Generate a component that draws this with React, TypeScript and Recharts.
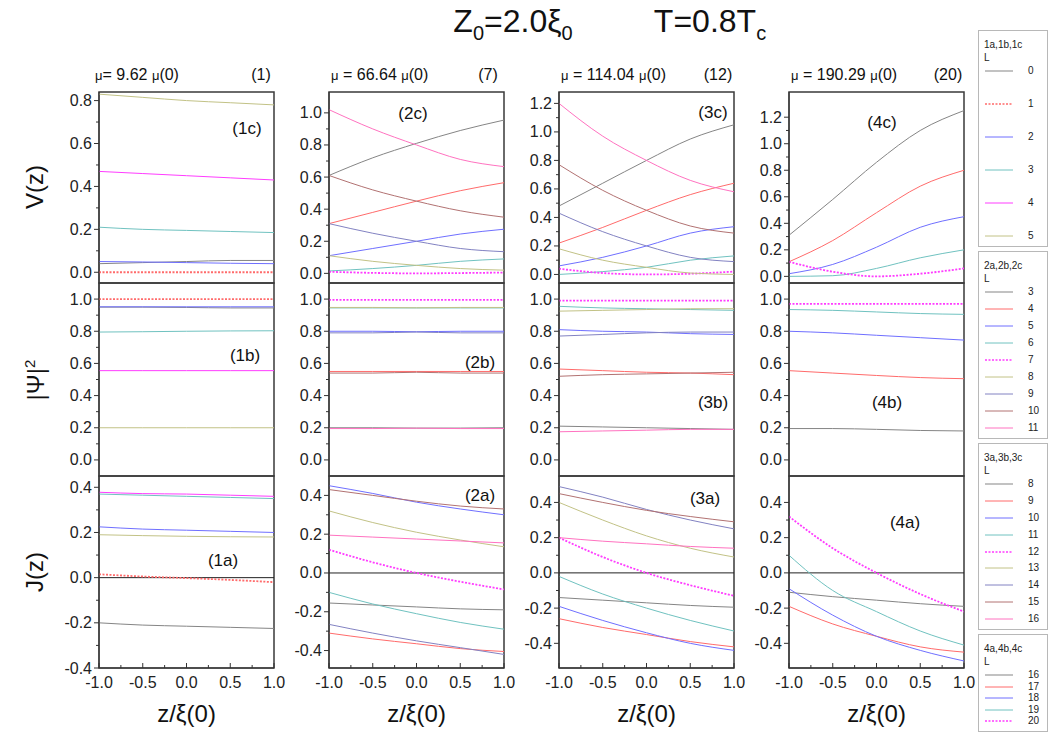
import React from 'react';
import { LineChart, Line, XAxis, YAxis, ReferenceArea, ReferenceLine } from 'recharts';

// z/xi(0) sample points shared by every curve
const zPoints = [-1, -0.5, 0, 0.5, 1];
const xTicks = [-1, -0.75, -0.5, -0.25, 0, 0.25, 0.5, 0.75, 1];

// L values per column (legend order), and the L marked dotted
const lGroups = [
  [0, 1, 2, 3, 4, 5],
  [3, 4, 5, 6, 7, 8, 9, 10, 11],
  [8, 9, 10, 11, 12, 13, 14, 15, 16],
  [16, 17, 18, 19, 20],
];
const currentL = [1, 7, 12, 20];
const muLabels = ['9.62', '66.64', '114.04', '190.29'];
const lineColors = ['#858585', '#ff6b6b', '#6f6fff', '#70c2c0', '#ff3cff', '#c2c286', '#8282c2', '#b27272', '#ff72c0'];

// V(z), one row per L of the column
const vCol1 = [
  [0.04, 0.045, 0.05, 0.055, 0.055],
  [0, 0, 0, 0, 0],
  [0.05, 0.048, 0.045, 0.042, 0.04],
  [0.21, 0.2, 0.195, 0.19, 0.185],
  [0.47, 0.46, 0.45, 0.44, 0.43],
  [0.83, 0.815, 0.8, 0.79, 0.78],
];
const vCol2 = [
  [0.61, 0.72, 0.81, 0.89, 0.955],
  [0.31, 0.38, 0.45, 0.515, 0.565],
  [0.11, 0.155, 0.2, 0.245, 0.275],
  [0.015, 0.03, 0.05, 0.075, 0.09],
  [0.01, 0.003, 0, 0.002, 0.005],
  [0.11, 0.075, 0.05, 0.03, 0.02],
  [0.31, 0.25, 0.2, 0.155, 0.135],
  [0.61, 0.52, 0.45, 0.39, 0.35],
  [1.02, 0.9, 0.8, 0.71, 0.665],
];
const vCol3 = [
  [0.48, 0.64, 0.8, 0.95, 1.05],
  [0.22, 0.33, 0.45, 0.56, 0.64],
  [0.06, 0.12, 0.2, 0.29, 0.335],
  [0.0, 0.02, 0.05, 0.1, 0.13],
  [0.04, 0.01, 0.0, 0.005, 0.02],
  [0.18, 0.1, 0.05, 0.01, 0.0],
  [0.43, 0.3, 0.2, 0.12, 0.09],
  [0.77, 0.59, 0.45, 0.34, 0.29],
  [1.2, 0.97, 0.8, 0.66, 0.58],
];
const vCol4 = [
  [0.31, 0.58, 0.86, 1.1, 1.25],
  [0.11, 0.27, 0.48, 0.68, 0.8],
  [0.02, 0.09, 0.22, 0.37, 0.45],
  [0.0, 0.005, 0.06, 0.14, 0.2],
  [0.11, 0.035, 0.0, 0.02, 0.06],
];

// |Psi|^2
const psiCol1 = [
  [0.95, 0.95, 0.948, 0.945, 0.945],
  [1, 1, 1, 1, 1],
  [0.952, 0.952, 0.952, 0.952, 0.952],
  [0.795, 0.797, 0.8, 0.802, 0.803],
  [0.555, 0.555, 0.555, 0.555, 0.555],
  [0.2, 0.2, 0.2, 0.2, 0.2],
];
const psiCol2 = [
  [0.2, 0.2, 0.198, 0.198, 0.2],
  [0.55, 0.55, 0.55, 0.55, 0.55],
  [0.8, 0.8, 0.797, 0.8, 0.8],
  [0.945, 0.945, 0.945, 0.945, 0.945],
  [0.995, 0.995, 0.995, 0.995, 0.995],
  [0.948, 0.948, 0.946, 0.948, 0.948],
  [0.79, 0.79, 0.795, 0.79, 0.79],
  [0.54, 0.54, 0.545, 0.54, 0.54],
  [0.195, 0.195, 0.197, 0.195, 0.195],
];
const psiCol3 = [
  [0.21, 0.205, 0.2, 0.195, 0.19],
  [0.565, 0.555, 0.545, 0.54, 0.53],
  [0.81, 0.8, 0.795, 0.785, 0.78],
  [0.955, 0.945, 0.94, 0.935, 0.93],
  [0.99, 0.99, 0.99, 0.99, 0.99],
  [0.925, 0.93, 0.935, 0.94, 0.94],
  [0.77, 0.78, 0.79, 0.795, 0.795],
  [0.52, 0.53, 0.535, 0.54, 0.545],
  [0.175, 0.18, 0.185, 0.19, 0.19],
];
const psiCol4 = [
  [0.195, 0.195, 0.19, 0.183, 0.18],
  [0.555, 0.54, 0.525, 0.512, 0.505],
  [0.8, 0.79, 0.775, 0.76, 0.745],
  [0.935, 0.93, 0.92, 0.91, 0.905],
  [0.97, 0.97, 0.97, 0.97, 0.97],
];

// J(z)
const jCol1 = [
  [-0.2, -0.21, -0.215, -0.22, -0.225],
  [0.015, 0.005, -0.002, -0.01, -0.02],
  [0.225, 0.215, 0.21, 0.205, 0.2],
  [0.37, 0.365, 0.36, 0.355, 0.35],
  [0.378, 0.372, 0.37, 0.365, 0.36],
  [0.19, 0.186, 0.183, 0.181, 0.18],
];
const jCol2 = [
  [-0.155, -0.165, -0.175, -0.185, -0.19],
  [-0.31, -0.34, -0.365, -0.39, -0.405],
  [0.45, 0.41, 0.365, 0.33, 0.3],
  [-0.1, -0.16, -0.21, -0.255, -0.29],
  [0.12, 0.055, 0.0, -0.045, -0.085],
  [0.32, 0.26, 0.21, 0.17, 0.135],
  [-0.265, -0.31, -0.35, -0.385, -0.42],
  [0.43, 0.4, 0.37, 0.345, 0.33],
  [0.195, 0.185, 0.175, 0.165, 0.155],
];
const jCol3 = [
  [-0.14, -0.155, -0.17, -0.185, -0.195],
  [-0.26, -0.31, -0.35, -0.39, -0.42],
  [-0.19, -0.27, -0.34, -0.4, -0.44],
  [-0.02, -0.12, -0.2, -0.27, -0.33],
  [0.2, 0.09, 0.0, -0.07, -0.13],
  [0.4, 0.3, 0.21, 0.14, 0.09],
  [0.49, 0.43, 0.36, 0.3, 0.25],
  [0.45, 0.4, 0.355, 0.32, 0.29],
  [0.2, 0.18, 0.165, 0.15, 0.14],
];
const jCol4 = [
  [-0.11, -0.135, -0.155, -0.175, -0.19],
  [-0.19, -0.29, -0.36, -0.42, -0.45],
  [-0.09, -0.24, -0.36, -0.44, -0.5],
  [0.1, -0.1, -0.22, -0.33, -0.41],
  [0.32, 0.14, 0.0, -0.12, -0.22],
];

const rowData = [
  [vCol1, vCol2, vCol3, vCol4],
  [psiCol1, psiCol2, psiCol3, psiCol4],
  [jCol1, jCol2, jCol3, jCol4],
];
const rowDomains = [
  [[-0.05, 0.84], [-0.06, 1.13], [-0.06, 1.28], [-0.05, 1.39]],
  [[-0.1, 1.1], [-0.1, 1.1], [-0.1, 1.1], [-0.1, 1.1]],
  [[-0.4, 0.45], [-0.49, 0.5], [-0.54, 0.55], [-0.54, 0.55]],
];
// labelled tick range [min, max], minor ticks every 0.1
const rowTickRange = [
  [[0, 0.8], [0, 1.0], [0, 1.2], [0, 1.2]],
  [[0, 1.0], [0, 1.0], [0, 1.0], [0, 1.0]],
  [[-0.4, 0.4], [-0.4, 0.4], [-0.4, 0.4], [-0.4, 0.4]],
];
const panelTags = [
  ['(1c)', '(2c)', '(3c)', '(4c)'],
  ['(1b)', '(2b)', '(3b)', '(4b)'],
  ['(1a)', '(2a)', '(3a)', '(4a)'],
];
const tagPos = [
  [[247, 128], [413, 113], [713, 112], [882, 122]],
  [[245, 355], [480, 362], [713, 402], [887, 402]],
  [[223, 560], [480, 495], [705, 498], [905, 522]],
];

// layout
const PLOT_X = [99, 329, 559, 789];
const PLOT_W = 175;
const ROW_Y = [92, 283, 476];
const ROW_H = [191, 193, 192];
const AXIS_W = 45;
const RIGHT_PAD = 16;
const FONT = '"Liberation Sans", Arial, sans-serif';

const makeTicks = ([lo, hi]: number[]) => {
  const out: number[] = [];
  for (let i = Math.round(lo * 10); i <= Math.round(hi * 10); i++) out.push(i / 10);
  return out;
};

const YTick = (props: any) => {
  const { x, y, payload } = props;
  const major = Math.round(payload.value * 10) % 2 === 0;
  return (
    <g>
      <line x1={x - (major ? 5 : 3)} x2={x} y1={y} y2={y} stroke="#333" />
      {major && (
        <text x={x - 7} y={y} dy={5.5} textAnchor="end" fontSize={16} fill="#222" fontFamily={FONT}>
          {payload.value.toFixed(1)}
        </text>
      )}
    </g>
  );
};

const makeXTick = (showLabel: boolean) => (props: any) => {
  const { x, y, payload } = props;
  const major = Math.abs(payload.value * 2 - Math.round(payload.value * 2)) < 1e-6;
  return (
    <g>
      <line x1={x} x2={x} y1={y} y2={y - (major ? 5 : 3)} stroke="#333" />
      {showLabel && major && (
        <text x={x} y={y} dy={20} textAnchor="middle" fontSize={16} fill="#222" fontFamily={FONT}>
          {payload.value.toFixed(1)}
        </text>
      )}
    </g>
  );
};

const Panel = ({ row, col }: { row: number; col: number }) => {
  const values = rowData[row][col];
  const domain = rowDomains[row][col];
  const isBottom = row === 2;
  const data = zPoints.map((z, i) => {
    const d: any = { z };
    values.forEach((s, k) => (d['s' + k] = s[i]));
    return d;
  });
  const height = ROW_H[row] + 4 + (isBottom ? 30 : 0);
  return (
    <div style={{ position: 'absolute', left: PLOT_X[col] - AXIS_W, top: ROW_Y[row] - 2 }}>
      <LineChart
        width={AXIS_W + PLOT_W + RIGHT_PAD}
        height={height}
        data={data}
        margin={{ top: 2, right: RIGHT_PAD, bottom: 2, left: 0 }}
      >
        <XAxis
          dataKey="z"
          type="number"
          domain={[-1, 1]}
          ticks={xTicks}
          interval={0}
          tick={makeXTick(isBottom)}
          tickLine={false}
          tickSize={0}
          tickMargin={0}
          height={isBottom ? 30 : 0}
          axisLine={{ stroke: '#333' }}
          allowDataOverflow
        />
        <YAxis
          type="number"
          domain={domain}
          ticks={makeTicks(rowTickRange[row][col])}
          interval={0}
          tick={<YTick />}
          tickLine={false}
          tickSize={0}
          tickMargin={0}
          width={AXIS_W}
          axisLine={{ stroke: '#333' }}
          allowDataOverflow
        />
        {isBottom && <ReferenceLine y={0} stroke="#222" strokeWidth={1} />}
        {values.map((s, k) => {
          const dotted = lGroups[col][k] === currentL[col];
          return (
            <Line
              key={k}
              dataKey={'s' + k}
              type="monotone"
              stroke={lineColors[k]}
              strokeWidth={dotted ? 1.8 : 1}
              strokeDasharray={dotted ? '2 1.5' : undefined}
              dot={false}
              isAnimationActive={false}
            />
          );
        })}
        <ReferenceArea x1={-1} x2={1} y1={domain[0]} y2={domain[1]} fill="none" stroke="#3a3a3a" strokeWidth={1.5} />
      </LineChart>
    </div>
  );
};

const Txt = ({ x, y, size, children, rotate }: any) => (
  <div
    style={{
      position: 'absolute',
      left: x,
      top: y,
      transform: `translate(-50%, -50%)${rotate ? ' rotate(-90deg)' : ''}`,
      fontSize: size,
      whiteSpace: 'nowrap',
      lineHeight: 1,
      color: '#111',
    }}
  >
    {children}
  </div>
);

const legendBoxes = [
  { top: 30, height: 215, title: '1a,1b,1c' },
  { top: 251, height: 186, title: '2a,2b,2c' },
  { top: 443, height: 185, title: '3a,3b,3c' },
  { top: 634, height: 96, title: '4a,4b,4c' },
];

const LegendBox = ({ col }: { col: number }) => {
  const box = legendBoxes[col];
  const items = lGroups[col];
  const start = 40;
  const step = (box.height - start - 10) / Math.max(items.length - 1, 1);
  return (
    <div style={{ position: 'absolute', left: 978, top: box.top, width: 68, height: box.height, border: '1px solid #b8b8b8', fontSize: 10, color: '#222' }}>
      <div style={{ position: 'absolute', left: 5, top: 8 }}>{box.title}</div>
      <div style={{ position: 'absolute', left: 5, top: 21 }}>L</div>
      {items.map((l, k) => {
        const dotted = l === currentL[col];
        return (
          <div key={l} style={{ position: 'absolute', left: 5, top: start + k * step - 6, height: 12, width: 60 }}>
            <svg width={30} height={12} style={{ position: 'absolute', left: 0, top: 0 }}>
              <line x1={1} x2={29} y1={6} y2={6} stroke={lineColors[k]} strokeWidth={dotted ? 1.6 : 1} strokeDasharray={dotted ? '2 1.5' : undefined} />
            </svg>
            <span style={{ position: 'absolute', left: 44, top: 0 }}>{l}</span>
          </div>
        );
      })}
    </div>
  );
};

export default function App() {
  return (
    <div style={{ position: 'absolute', left: 0, top: 0, width: 1053, height: 737, background: '#fff', fontFamily: FONT, overflow: 'hidden' }}>
      <Txt x={513} y={24} size={32}>
        Z<sub style={{ fontSize: 20 }}>0</sub>=2.0ξ<sub style={{ fontSize: 20 }}>0</sub>
      </Txt>
      <Txt x={710} y={24} size={32}>
        T=0.8T<sub style={{ fontSize: 20 }}>c</sub>
      </Txt>

      {muLabels.map((mu, c) => (
        <React.Fragment key={c}>
          <div style={{ position: 'absolute', left: PLOT_X[c] - (c === 0 ? 4 : -2), top: 66, fontSize: 16, whiteSpace: 'nowrap', color: '#111' }}>
            <span style={{ fontSize: 13 }}>μ</span>{c === 0 ? '= ' : ' = '}{mu} <span style={{ fontSize: 13 }}>μ</span>(0)
          </div>
          <Txt x={PLOT_X[c] + PLOT_W - (c === 0 ? 13 : 16)} y={75} size={16}>({currentL[c]})</Txt>
        </React.Fragment>
      ))}

      {[0, 1, 2].map((r) => [0, 1, 2, 3].map((c) => <Panel key={`${r}-${c}`} row={r} col={c} />))}

      {panelTags.map((row, r) =>
        row.map((t, c) => (
          <Txt key={t} x={tagPos[r][c][0]} y={tagPos[r][c][1]} size={17}>{t}</Txt>
        ))
      )}

      <Txt x={35} y={187} size={24} rotate>V(z)</Txt>
      <Txt x={35} y={380} size={24} rotate>
        |Ψ|<sup style={{ fontSize: 15 }}>2</sup>
      </Txt>
      <Txt x={35} y={572} size={24} rotate>J(z)</Txt>

      {PLOT_X.map((x, c) => (
        <Txt key={c} x={x + PLOT_W / 2} y={714} size={24}>z/ξ(0)</Txt>
      ))}

      {[0, 1, 2, 3].map((c) => <LegendBox key={c} col={c} />)}
    </div>
  );
}
